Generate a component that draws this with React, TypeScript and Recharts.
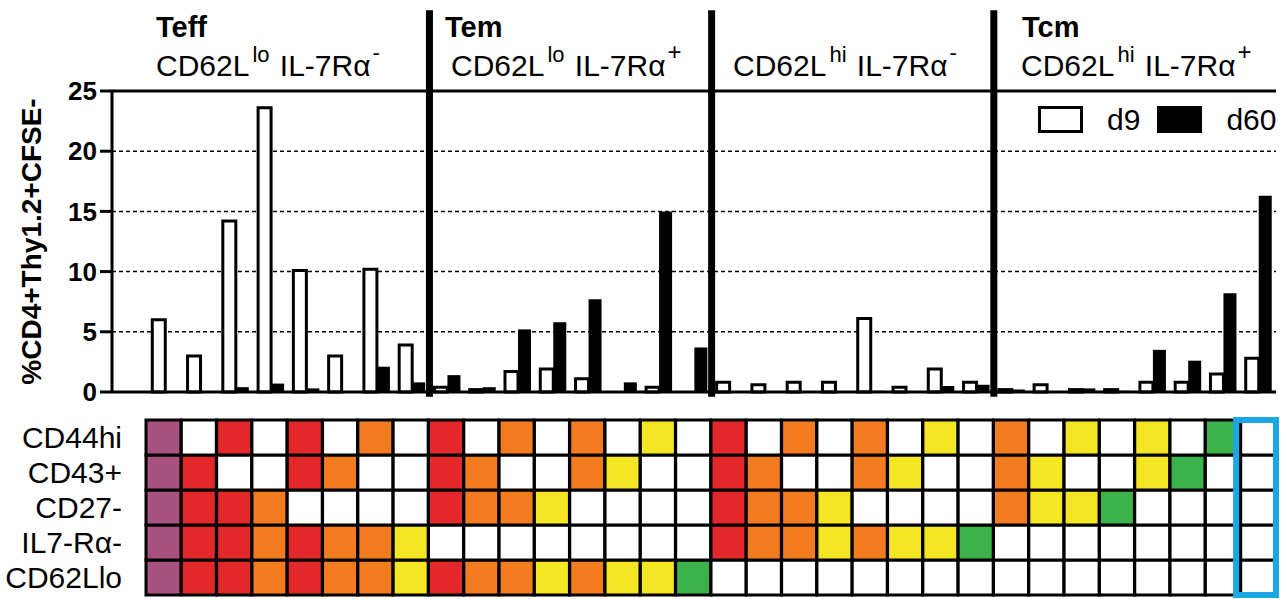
import React from "react";
import {
  Bar,
  BarChart,
  CartesianGrid,
  Cell,
  Legend,
  ReferenceArea,
  ReferenceLine,
  XAxis,
  YAxis,
} from "recharts";

const FONT = "'Liberation Sans', Arial, Helvetica, sans-serif";

// slot "0" is the empty band at the start of the x axis
const categories = [
  "0", "1", "2", "3", "4", "5", "6", "7", "8", "9", "10", "11", "12", "13", "14", "15", "16",
  "17", "18", "19", "20", "21", "22", "23", "24", "25", "26", "27", "28", "29", "30", "31", "32",
];

const d9 = [
  null, 6.0, 3.0, 14.2, 23.6, 10.1, 3.0, 10.2, 3.9,
  0.4, 0.2, 1.7, 1.9, 1.1, 0, 0.4, 0,
  0.8, 0.6, 0.8, 0.8, 6.1, 0.4, 1.9, 0.8,
  0.2, 0.6, 0.2, 0.2, 0.8, 0.8, 1.5, 2.8,
];

const d60 = [
  null, 0, 0, 0.4, 0.7, 0.3, 0, 2.1, 0.8,
  1.4, 0.4, 5.2, 5.8, 7.7, 0.8, 15.0, 3.7,
  0, 0, 0, 0, 0.1, 0, 0.5, 0.6,
  0.2, 0, 0.3, 0.1, 3.5, 2.6, 8.2, 16.3,
];

const yTicks = [0, 5, 10, 15, 20, 25];
const legendOrder = ["d9", "d60"];

// section boundaries (last column of each block)
const sectionEnds = ["8", "16", "24"];

const titles = ["Teff", "Tem", "", "Tcm"];
const subtitleSups = [
  ["lo", "-"],
  ["lo", "+"],
  ["hi", "-"],
  ["hi", "+"],
];

// marker table, top row to bottom row, one flag per column
const rowLabels = ["CD44hi", "CD43+", "CD27-", "IL7-R\u03b1-", "CD62Llo"];
const cd44hi = [1, 0, 1, 0, 1, 0, 1, 0, 1, 0, 1, 0, 1, 0, 1, 0, 1, 0, 1, 0, 1, 0, 1, 0, 1, 0, 1, 0, 1, 0, 1, 0];
const cd43 = [1, 1, 0, 0, 1, 1, 0, 0, 1, 1, 0, 0, 1, 1, 0, 0, 1, 1, 0, 0, 1, 1, 0, 0, 1, 1, 0, 0, 1, 1, 0, 0];
const cd27 = [1, 1, 1, 1, 0, 0, 0, 0, 1, 1, 1, 1, 0, 0, 0, 0, 1, 1, 1, 1, 0, 0, 0, 0, 1, 1, 1, 1, 0, 0, 0, 0];
const il7ra = [1, 1, 1, 1, 1, 1, 1, 1, 0, 0, 0, 0, 0, 0, 0, 0, 1, 1, 1, 1, 1, 1, 1, 1, 0, 0, 0, 0, 0, 0, 0, 0];
const cd62llo = [1, 1, 1, 1, 1, 1, 1, 1, 1, 1, 1, 1, 1, 1, 1, 1, 0, 0, 0, 0, 0, 0, 0, 0, 0, 0, 0, 0, 0, 0, 0, 0];
const markerRows = [cd44hi, cd43, cd27, il7ra, cd62llo];
const highlighted = "32";

// colour by number of positive markers in the column
const countColors: Record<number, string> = {
  5: "#a8527f",
  4: "#e2282b",
  3: "#f47c20",
  2: "#f5e624",
  1: "#3bb34a",
  0: "#ffffff",
};

const mainData = categories.map((name, i) => ({ name, d9: d9[i], d60: d60[i] }));

const gridCats = categories.slice(1);
const gridData = gridCats.map((name) => {
  const row: any = { name };
  markerRows.forEach((_, r) => (row["m" + r] = 1));
  return row;
});
const colCounts = gridCats.map((_, c) => markerRows.reduce((s, row) => s + row[c], 0));

function LegendBoxes(props: any) {
  const items = [...(props.payload || [])].sort(
    (a: any, b: any) => legendOrder.indexOf(a.value) - legendOrder.indexOf(b.value)
  );
  return (
    <div style={{ display: "flex", alignItems: "center", fontFamily: FONT, fontSize: 30, lineHeight: "27px" }}>
      {items.map((entry: any, i: number) => (
        <React.Fragment key={entry.value}>
          <span
            style={{
              display: "inline-block",
              width: 39,
              height: 21,
              border: "3px solid #000",
              background: entry.color,
              marginRight: 24,
            }}
          />
          <span style={{ marginRight: i === 0 ? 17 : 0, color: "#000" }}>{entry.value}</span>
        </React.Fragment>
      ))}
    </div>
  );
}

const headerX = [156, 445, 733, 1022];
const subX = [156, 451, 733, 1021];

const gridMargin = { top: 10, right: 10, bottom: 4, left: 0 };

export default function App() {
  return (
    <div
      style={{
        position: "absolute",
        left: 0,
        top: 0,
        width: 1286,
        height: 599,
        background: "#fff",
        fontFamily: FONT,
        overflow: "hidden",
      }}
    >
      <svg width={1286} height={90} style={{ position: "absolute", left: 0, top: 0 }}>
        {titles.map((t, i) =>
          t ? (
            <text key={"t" + i} x={headerX[i]} y={37} fontSize={29} fontWeight={700} fill="#000" fontFamily={FONT}>
              {t}
            </text>
          ) : null
        )}
        {subtitleSups.map((sup, i) => (
          <text key={"s" + i} x={subX[i]} y={76} fontSize={30} fill="#000" fontFamily={FONT}>
            CD62L
            <tspan dx={3} dy={-14} fontSize={22}>
              {sup[0]}
            </tspan>
            <tspan dx={2} dy={14}>
              {" IL-7R\u03b1"}
            </tspan>
            <tspan dx={2} dy={-16} fontSize={sup[1] === "+" ? 24 : 22}>
              {sup[1]}
            </tspan>
          </text>
        ))}
      </svg>

      <div style={{ position: "absolute", left: 0, top: 0 }}>
        <BarChart
          width={1286}
          height={406}
          data={mainData}
          margin={{ top: 91, right: 10, bottom: 1, left: 0 }}
          barGap={0}
        >
          <CartesianGrid vertical={false} stroke="#000" strokeWidth={1.5} strokeDasharray="4 3" />
          <XAxis
            dataKey="name"
            type="category"
            interval={0}
            height={13}
            tickSize={10}
            tick={false}
            axisLine={{ stroke: "#000", strokeWidth: 3 }}
            tickLine={{ stroke: "#000", strokeWidth: 3 }}
          />
          <YAxis
            width={112}
            domain={[0, 25]}
            ticks={yTicks}
            interval={0}
            tickSize={12}
            tickMargin={3}
            tick={{ fontSize: 26, fontWeight: 700, fill: "#000", fontFamily: FONT }}
            axisLine={{ stroke: "#000", strokeWidth: 3 }}
            tickLine={{ stroke: "#000", strokeWidth: 3 }}
            label={{
              value: "%CD4+Thy1.2+CFSE-",
              angle: -90,
              position: "insideLeft",
              offset: 31,
              style: { textAnchor: "middle", fontWeight: 700, fontSize: 28, fill: "#000", fontFamily: FONT },
            }}
          />
          <Bar dataKey="d9" name="d9" fill="#ffffff" stroke="#000" strokeWidth={3} barSize={13} isAnimationActive={false} />
          <Bar dataKey="d60" name="d60" fill="#000000" barSize={13} isAnimationActive={false} />
          <ReferenceLine y={25} stroke="#000" strokeWidth={3} ifOverflow="visible" />
          {sectionEnds.map((c) => (
            <ReferenceLine
              key={c}
              segment={[
                { x: c, y: -0.4 },
                { x: c, y: 31.7 },
              ]}
              position="end"
              stroke="#000"
              strokeWidth={7}
              ifOverflow="visible"
            />
          ))}
          <Legend
            layout="vertical"
            verticalAlign="middle"
            align="center"
            content={LegendBoxes}
            wrapperStyle={{ top: 106, left: 1038, width: 250 }}
          />
        </BarChart>
      </div>

      <div style={{ position: "absolute", left: 0, top: 410 }}>
        <BarChart width={1286} height={189} data={gridData} margin={gridMargin} barCategoryGap={0} barGap={0}>
          <XAxis dataKey="name" type="category" hide />
          <YAxis
            type="number"
            width={146}
            domain={[0, 5]}
            ticks={[0.5, 1.5, 2.5, 3.5, 4.5]}
            interval={0}
            tickLine={false}
            axisLine={false}
            tickMargin={18}
            tickFormatter={(v: number) => rowLabels[4 - Math.floor(v)]}
            tick={{ fontSize: 30, fill: "#000", fontFamily: FONT }}
          />
          {[4, 3, 2, 1, 0].map((r) => (
            <Bar key={r} dataKey={"m" + r} stackId="grid" stroke="#000" strokeWidth={3} isAnimationActive={false}>
              {gridCats.map((c, i) => (
                <Cell key={c} fill={markerRows[r][i] ? countColors[colCounts[i]] : "#ffffff"} />
              ))}
            </Bar>
          ))}
        </BarChart>
      </div>

      {/* highlight frame on its own layer so it sits above the cells */}
      <div style={{ position: "absolute", left: 0, top: 410, pointerEvents: "none" }}>
        <BarChart width={1286} height={189} data={gridData} margin={gridMargin} barCategoryGap={0} barGap={0}>
          <XAxis dataKey="name" type="category" hide />
          <YAxis type="number" width={146} domain={[0, 5]} hide />
          <Bar dataKey="m0" fill="none" stroke="none" isAnimationActive={false} />
          <ReferenceArea
            x1={highlighted}
            x2={highlighted}
            y1={0}
            y2={5}
            fill="none"
            fillOpacity={0}
            stroke="#1ba7e3"
            strokeWidth={6}
            ifOverflow="visible"
          />
        </BarChart>
      </div>
    </div>
  );
}
